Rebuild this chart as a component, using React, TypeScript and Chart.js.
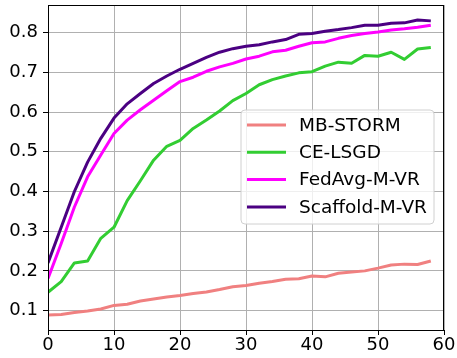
import React, { useEffect, useRef } from "react";
import { Chart, registerables } from "chart.js";

Chart.register(...registerables);

const steps = [0, 2, 4, 6, 8, 10, 12, 14, 16, 18, 20, 22, 24, 26, 28, 30, 32, 34, 36, 38, 40, 42, 44, 46, 48, 50, 52, 54, 56, 58];

const mbStorm = [0.089, 0.090, 0.095, 0.099, 0.104, 0.113, 0.116, 0.124, 0.129, 0.134, 0.138, 0.143, 0.147, 0.153, 0.160, 0.163, 0.169, 0.173, 0.179, 0.180, 0.187, 0.185, 0.194, 0.197, 0.200, 0.207, 0.215, 0.217, 0.216, 0.225];
const ceLsgd = [0.146, 0.173, 0.220, 0.225, 0.282, 0.310, 0.377, 0.427, 0.479, 0.514, 0.529, 0.559, 0.580, 0.603, 0.629, 0.647, 0.669, 0.682, 0.691, 0.699, 0.702, 0.716, 0.726, 0.723, 0.743, 0.741, 0.751, 0.733, 0.759, 0.763];
const fedAvg = [0.181, 0.269, 0.361, 0.437, 0.492, 0.546, 0.580, 0.606, 0.630, 0.654, 0.677, 0.688, 0.703, 0.714, 0.723, 0.734, 0.741, 0.752, 0.756, 0.766, 0.775, 0.777, 0.786, 0.793, 0.798, 0.802, 0.807, 0.810, 0.814, 0.819];
const scaffold = [0.220, 0.310, 0.400, 0.474, 0.534, 0.585, 0.621, 0.647, 0.672, 0.691, 0.708, 0.723, 0.738, 0.751, 0.760, 0.766, 0.770, 0.777, 0.783, 0.796, 0.798, 0.804, 0.808, 0.813, 0.819, 0.819, 0.824, 0.825, 0.832, 0.830];

const seriesNames = ["MB-STORM", "CE-LSGD", "FedAvg-M-VR", "Scaffold-M-VR"];
const seriesColors = ["#F08080", "#32CD32", "#FF00FF", "#4B0082"];
const seriesValues = [mbStorm, ceLsgd, fedAvg, scaffold];

const xTicks = [0, 10, 20, 30, 40, 50, 60];
const yTicks = [0.1, 0.2, 0.3, 0.4, 0.5, 0.6, 0.7, 0.8];

const FONT = "'DejaVu Sans', sans-serif";

const framePlugin = {
  id: "frame",
  afterDraw(chart: any) {
    const { ctx, chartArea } = chart;
    ctx.save();
    ctx.strokeStyle = "#000";
    ctx.lineWidth = 1;
    ctx.strokeRect(chartArea.left + 0.5, chartArea.top + 0.5, chartArea.right - chartArea.left - 1, chartArea.bottom - chartArea.top);
    ctx.restore();
  },
};

const legendPlugin = {
  id: "innerLegend",
  afterDatasetsDraw(chart: any) {
    const { ctx, chartArea } = chart;
    const w = 193;
    const h = 114;
    const x0 = chartArea.right - 10 - w;
    const y0 = chartArea.top + 105;
    const r = 4;
    ctx.save();
    ctx.beginPath();
    ctx.moveTo(x0 + r, y0);
    ctx.lineTo(x0 + w - r, y0);
    ctx.quadraticCurveTo(x0 + w, y0, x0 + w, y0 + r);
    ctx.lineTo(x0 + w, y0 + h - r);
    ctx.quadraticCurveTo(x0 + w, y0 + h, x0 + w - r, y0 + h);
    ctx.lineTo(x0 + r, y0 + h);
    ctx.quadraticCurveTo(x0, y0 + h, x0, y0 + h - r);
    ctx.lineTo(x0, y0 + r);
    ctx.quadraticCurveTo(x0, y0, x0 + r, y0);
    ctx.closePath();
    ctx.fillStyle = "rgba(255,255,255,0.8)";
    ctx.fill();
    ctx.strokeStyle = "#d0d0d0";
    ctx.lineWidth = 1;
    ctx.stroke();
    ctx.font = `18.5px ${FONT}`;
    ctx.textBaseline = "middle";
    ctx.textAlign = "left";
    chart.data.datasets.forEach((ds: any, i: number) => {
      const cy = y0 + 15 + i * 27.3;
      ctx.strokeStyle = ds.borderColor;
      ctx.lineWidth = 3;
      ctx.lineCap = "butt";
      ctx.beginPath();
      ctx.moveTo(x0 + 6, cy);
      ctx.lineTo(x0 + 45, cy);
      ctx.stroke();
      ctx.fillStyle = "#000";
      ctx.fillText(ds.label, x0 + 58, cy + 1);
    });
    ctx.restore();
  },
};

export default function App() {
  const ref = useRef<HTMLCanvasElement | null>(null);

  useEffect(() => {
    if (!ref.current) return;
    const datasets = seriesNames.map((name, i) => ({
      label: name,
      data: steps.map((s, j) => ({ x: s, y: seriesValues[i][j] })),
      borderColor: seriesColors[i],
      backgroundColor: seriesColors[i],
      borderWidth: 3,
      pointRadius: 0,
      fill: false,
      tension: 0,
      borderJoinStyle: "round" as const,
      borderCapStyle: "butt" as const,
      order: seriesNames.length - 1 - i,
    }));
    const chart = new Chart(ref.current, {
      type: "line",
      data: { datasets },
      options: {
        animation: false,
        responsive: false,
        devicePixelRatio: 1,
        layout: { padding: { left: 0, top: 5, right: 13, bottom: 0 } },
        plugins: { legend: { display: false }, tooltip: { enabled: false } },
        scales: {
          x: {
            type: "linear",
            min: 0,
            max: 60,
            afterBuildTicks: (scale: any) => {
              scale.ticks = xTicks.map((v) => ({ value: v }));
            },
            afterFit: (scale: any) => {
              scale.height = 28;
              scale.paddingLeft = 0;
              scale.paddingRight = 0;
            },
            ticks: {
              color: "#000",
              font: { family: FONT, size: 18 },
              padding: 0,
              maxRotation: 0,
              callback: (v: any) => String(v),
            },
            grid: { color: "#b0b0b0", lineWidth: 1, tickLength: 5, tickColor: "#000" },
            border: { display: false },
          },
          y: {
            type: "linear",
            min: 0.051,
            max: 0.87,
            afterBuildTicks: (scale: any) => {
              scale.ticks = yTicks.map((v) => ({ value: v }));
            },
            afterFit: (scale: any) => {
              scale.width = 48;
              scale.paddingTop = 0;
              scale.paddingBottom = 0;
            },
            ticks: {
              color: "#000",
              font: { family: FONT, size: 18 },
              padding: 5,
              callback: (v: any) => Number(v).toFixed(1),
            },
            grid: { color: "#b0b0b0", lineWidth: 1, tickLength: 5, tickColor: "#000" },
            border: { display: false },
          },
        },
      },
      plugins: [legendPlugin, framePlugin],
    });
    return () => chart.destroy();
  }, []);

  return (
    <div style={{ position: "absolute", left: 0, top: 0, width: 457, height: 358, background: "#fff" }}>
      <canvas ref={ref} width={457} height={358} style={{ width: 457, height: 358 }} />
    </div>
  );
}
